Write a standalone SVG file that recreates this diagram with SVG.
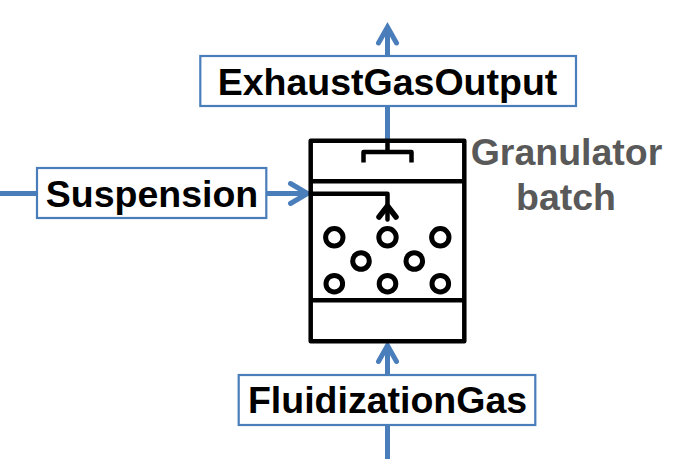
<svg xmlns="http://www.w3.org/2000/svg" width="696" height="460" viewBox="0 0 696 460">
<style>
.box{fill:#fff;stroke:#4a7ebb;stroke-width:2.2}
.flow{fill:none;stroke:#4a7ebb;stroke-width:5;stroke-linecap:butt}
.head{fill:none;stroke:#4a7ebb;stroke-width:5;stroke-linecap:round;stroke-linejoin:miter}
.v{fill:none;stroke:#000;stroke-width:4.500;stroke-linejoin:round}
.c{fill:#fff;stroke:#000;stroke-width:5}
text{font-family:"Liberation Sans",Arial,sans-serif;font-weight:700;text-anchor:middle}
.l{font-size:37.5px;fill:#000}
.g{font-size:37.5px;fill:#595959}
</style>
<rect width="696" height="460" fill="#fff"/>
<g id="connectors">
<path class="flow" d="M387.5 30V140"/>
<path class="head" d="M378.500 43L387.500 27L396.500 43"/>
<path class="flow" d="M0 193.500H306"/>
<path class="head" d="M290.500 183.500L307.500 193.500L290.500 203.500"/>
<path class="flow" d="M387.5 459V350"/>
<path class="head" d="M378.500 361.500L387.500 345.500L396.500 361.500"/>
</g>
<g id="granulator">
<rect class="v" x="310.700" y="140.700" width="153.600" height="200.500"/>
<path class="v" d="M311 181.300H464M311 300.300H464"/>
<path class="v" d="M387.500 141V152H363.500V162.500M387.500 152H411.500V162.500"/>
<path class="v" d="M311 193.700H387.500V219.500" stroke-linecap="round"/>
<path class="v" style="stroke-width:5.500" stroke-linecap="round" d="M379 217L387.500 206L396 217"/>
<circle class="c" cx="334.300" cy="237.300" r="8.700"/>
<circle class="c" cx="387.500" cy="237.300" r="8.700"/>
<circle class="c" cx="440.300" cy="237.300" r="8.700"/>
<circle class="c" cx="361" cy="261" r="8.300"/>
<circle class="c" cx="414.300" cy="261" r="8.300"/>
<circle class="c" cx="334.300" cy="283.700" r="8.300"/>
<circle class="c" cx="387.500" cy="283.700" r="8.300"/>
<circle class="c" cx="440.300" cy="283.700" r="8.300"/>
<text class="g" x="566.500" y="165">Granulator</text>
<text class="g" x="566" y="209.500">batch</text>
</g>
<g id="exhaust">
<rect class="box" x="200.300" y="56" width="375.700" height="50"/>
<text class="l" x="387.500" y="94.500">ExhaustGasOutput</text>
</g>
<g id="suspension">
<rect class="box" x="37" y="168" width="229.300" height="50"/>
<text class="l" x="152" y="206.500">Suspension</text>
</g>
<g id="fluidization">
<rect class="box" x="238.700" y="375" width="296.600" height="50"/>
<text class="l" x="387.500" y="413">FluidizationGas</text>
</g>
</svg>
